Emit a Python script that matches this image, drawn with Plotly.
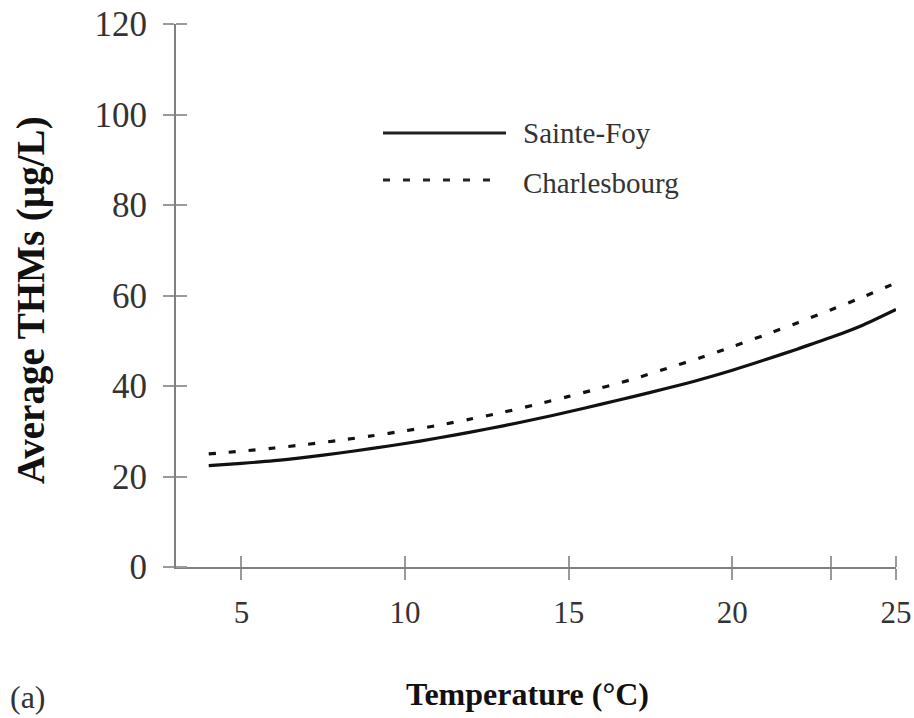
import plotly.graph_objects as go

# Data
temperature = [4, 5, 6, 7, 8, 9, 10, 11, 12, 13, 14, 15, 16, 17, 18, 19, 20, 21, 22, 23, 24, 25]
sainte_foy = [22.4, 22.9, 23.5, 24.3, 25.2, 26.2, 27.3, 28.5, 29.8, 31.2, 32.7, 34.3, 36.0, 37.7,
              39.5, 41.4, 43.5, 45.8, 48.2, 50.7, 53.5, 56.9]
charlesbourg = [25.0, 25.6, 26.3, 27.1, 28.0, 29.0, 30.1, 31.3, 32.7, 34.2, 35.9, 37.7, 39.6, 41.6,
                43.9, 46.2, 48.7, 51.3, 54.0, 56.8, 59.7, 62.8]
x_tickvals = [5, 10, 15, 20, 23, 25]
x_ticktext = ["5", "10", "15", "20", "", "25"]
y_tickvals = [0, 20, 40, 60, 80, 100, 120]
series_names = ["Sainte-Foy", "Charlesbourg"]

FONT = "Liberation Serif"
AXIS_COLOR = "#808080"
TICK_COLOR = "#9a9a9a"
EPS = 1e-3  # inner half of the crossing ticks sits on the same values

fig = go.Figure()
fig.add_trace(go.Scatter(x=temperature, y=sainte_foy, mode="lines", name=series_names[0],
                         line=dict(color="#111111", width=3.2, shape="spline", smoothing=0.8),
                         showlegend=False))
fig.add_trace(go.Scatter(x=temperature, y=charlesbourg, mode="lines", name=series_names[1],
                         line=dict(color="#111111", width=3.2, dash="7px,13px", shape="spline",
                                   smoothing=0.8),
                         showlegend=False))

W, H = 914, 718
L, R, T, B = 176, 18, 24, 151
pw, ph = W - L - R, H - T - B

def px(xp):
    return (xp - L) / pw

def py(yp):
    return (H - B - yp) / ph

fig.update_layout(
    width=W, height=H,
    margin=dict(l=L, r=R, t=T, b=B, autoexpand=False),
    paper_bgcolor="white", plot_bgcolor="white",
    font=dict(family=FONT, color="#222222"),
    xaxis=dict(range=[3, 25], tickvals=x_tickvals, ticktext=x_ticktext, showgrid=False,
               zeroline=False, ticks="outside", ticklen=11, tickwidth=2, tickcolor=TICK_COLOR,
               showline=True, linecolor=AXIS_COLOR, linewidth=2,
               tickfont=dict(family=FONT, size=31, color="#333333"), ticklabelstandoff=6,
               minor=dict(tickmode="array", tickvals=[v + EPS for v in x_tickvals],
                          ticks="inside", ticklen=11, tickwidth=2, tickcolor=TICK_COLOR,
                          showgrid=False)),
    yaxis=dict(range=[0, 120], tickvals=y_tickvals, showgrid=False, zeroline=False,
               ticks="outside", ticklen=11, tickwidth=2, tickcolor=TICK_COLOR,
               showline=True, linecolor=AXIS_COLOR, linewidth=2,
               tickfont=dict(family=FONT, size=35, color="#333333"), ticklabelstandoff=9,
               minor=dict(tickmode="array", tickvals=[v + EPS for v in y_tickvals],
                          ticks="inside", ticklen=11, tickwidth=2, tickcolor=TICK_COLOR,
                          showgrid=False)),
)

# Legend keys (drawn manually to match long sample lines)
fig.add_shape(type="line", xref="paper", yref="paper", x0=px(383), x1=px(506), y0=py(133), y1=py(133),
              line=dict(color="#222222", width=3.2))
fig.add_shape(type="line", xref="paper", yref="paper", x0=px(383), x1=px(497), y0=py(180), y1=py(180),
              line=dict(color="#222222", width=3.2, dash="7px,13px"))
fig.add_annotation(text=series_names[0], xref="paper", yref="paper", x=px(521), y=py(133),
                   xanchor="left", yanchor="middle", showarrow=False,
                   font=dict(family=FONT, size=29, color="#333333"))
fig.add_annotation(text=series_names[1], xref="paper", yref="paper", x=px(521), y=py(183),
                   xanchor="left", yanchor="middle", showarrow=False,
                   font=dict(family=FONT, size=29, color="#333333"))

# Axis titles and panel label
fig.add_annotation(text="<b>Average THMs (µg/L)</b>", xref="paper", yref="paper",
                   x=px(31), y=py(300), xanchor="center", yanchor="middle", textangle=-90,
                   showarrow=False, font=dict(family=FONT, size=39, color="#111111"))
fig.add_annotation(text="<b>Temperature (°C)</b>", xref="paper", yref="paper",
                   x=px(527), y=py(694), xanchor="center", yanchor="middle",
                   showarrow=False, font=dict(family=FONT, size=32, color="#111111"))
fig.add_annotation(text="(a)", xref="paper", yref="paper",
                   x=px(8), y=py(697), xanchor="left", yanchor="middle",
                   showarrow=False, font=dict(family=FONT, size=32, color="#333333"))

fig.write_html("out.html")
